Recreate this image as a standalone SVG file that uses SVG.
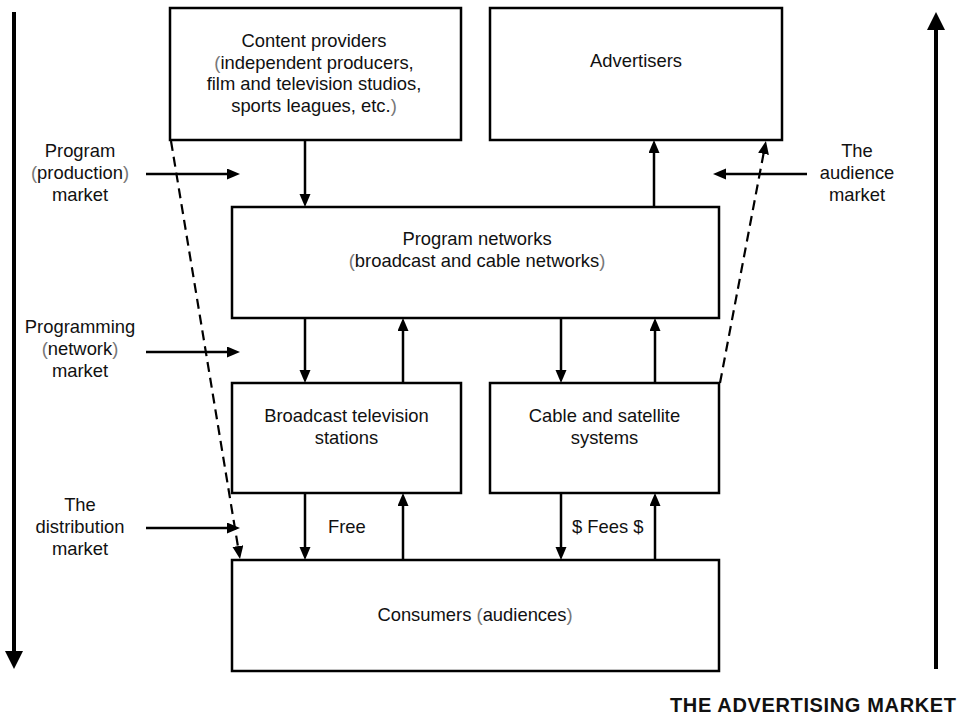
<svg xmlns="http://www.w3.org/2000/svg" width="961" height="717" viewBox="0 0 961 717">
<style>
  .box { fill: #fff; stroke: #000; stroke-width: 2.5; }
  .t { font-family: "Liberation Sans", Arial, Helvetica, sans-serif; font-size: 18.4px; fill: #111; text-anchor: middle; }
  .tl { font-family: "Liberation Sans", Arial, Helvetica, sans-serif; font-size: 18.4px; fill: #111; }
  .p { fill: #777; }
  .c { fill: none; stroke: #000; stroke-width: 2.5; marker-end: url(#ah); }
  .d { fill: none; stroke: #000; stroke-width: 2.2; stroke-dasharray: 10 6; marker-end: url(#ah); }
  .big { fill: none; stroke: #000; stroke-width: 4; marker-end: url(#bh); }
  .title { font-family: "Liberation Sans", Arial, Helvetica, sans-serif; font-size: 20px; font-weight: bold; fill: #111; }
</style>
<defs>
  <marker id="ah" markerUnits="userSpaceOnUse" markerWidth="14" markerHeight="12" refX="8" refY="5.5" orient="auto" viewBox="0 0 14 12">
    <path d="M0,0 L13,5.5 L0,11 z" fill="#000"/>
  </marker>
  <marker id="bh" markerUnits="userSpaceOnUse" markerWidth="19" markerHeight="19" refX="10" refY="9" orient="auto" viewBox="0 0 19 19">
    <path d="M0,0 L18,9 L0,18 z" fill="#000"/>
  </marker>
</defs>

<g id="connectors">
  <line class="big" x1="14" y1="12" x2="14" y2="661"/>
  <line class="big" x1="936" y1="669" x2="936" y2="20"/>

  <line class="c" x1="305" y1="140" x2="305" y2="202"/>
  <line class="c" x1="654" y1="207" x2="654" y2="145"/>
  <line class="c" x1="305" y1="318" x2="305" y2="378"/>
  <line class="c" x1="403" y1="383" x2="403" y2="323"/>
  <line class="c" x1="561" y1="318" x2="561" y2="378"/>
  <line class="c" x1="655" y1="383" x2="655" y2="323"/>
  <line class="c" x1="305" y1="493" x2="305" y2="555"/>
  <line class="c" x1="403" y1="560" x2="403" y2="498"/>
  <line class="c" x1="561" y1="493" x2="561" y2="555"/>
  <line class="c" x1="655" y1="560" x2="655" y2="498"/>

  <line class="c" x1="146" y1="174" x2="235" y2="174"/>
  <line class="c" x1="146" y1="352" x2="235" y2="352"/>
  <line class="c" x1="146" y1="528" x2="235" y2="528"/>
  <line class="c" x1="807" y1="174" x2="718" y2="174"/>

  <line class="d" x1="171" y1="141" x2="239.2" y2="554"/>
  <line class="d" x1="720" y1="383" x2="765" y2="146"/>
</g>

<g id="content-providers">
  <rect class="box" x="170" y="8" width="291" height="132"/>
  <text class="t" x="314" y="47">Content providers</text>
  <text class="t" x="314" y="68.7"><tspan class="p">(</tspan>independent producers,</text>
  <text class="t" x="314" y="90.3">film and television studios,</text>
  <text class="t" x="314" y="112">sports leagues, etc.<tspan class="p">)</tspan></text>
</g>

<g id="advertisers">
  <rect class="box" x="490" y="8" width="292" height="132"/>
  <text class="t" x="636" y="67">Advertisers</text>
</g>

<g id="program-networks">
  <rect class="box" x="232" y="207" width="487" height="111"/>
  <text class="t" x="477" y="245">Program networks</text>
  <text class="t" x="477" y="267"><tspan class="p">(</tspan>broadcast and cable networks<tspan class="p">)</tspan></text>
</g>

<g id="broadcast-stations">
  <rect class="box" x="232" y="383" width="229" height="110"/>
  <text class="t" x="346.5" y="422">Broadcast television</text>
  <text class="t" x="346.5" y="444">stations</text>
</g>

<g id="cable-satellite">
  <rect class="box" x="490" y="383" width="229" height="110"/>
  <text class="t" x="604.5" y="422">Cable and satellite</text>
  <text class="t" x="604.5" y="444">systems</text>
</g>

<g id="consumers">
  <rect class="box" x="232" y="560" width="487" height="111"/>
  <text class="t" x="475" y="621">Consumers <tspan class="p">(</tspan>audiences<tspan class="p">)</tspan></text>
</g>

<g id="labels">
  <text class="tl" x="328" y="533">Free</text>
  <text class="tl" x="572" y="533">$ Fees $</text>

  <text class="t" x="80" y="157">Program</text>
  <text class="t" x="80" y="179"><tspan class="p">(</tspan>production<tspan class="p">)</tspan></text>
  <text class="t" x="80" y="201">market</text>

  <text class="t" x="80" y="333">Programming</text>
  <text class="t" x="80" y="355"><tspan class="p">(</tspan>network<tspan class="p">)</tspan></text>
  <text class="t" x="80" y="377">market</text>

  <text class="t" x="80" y="511">The</text>
  <text class="t" x="80" y="533">distribution</text>
  <text class="t" x="80" y="555">market</text>

  <text class="t" x="857" y="157">The</text>
  <text class="t" x="857" y="179">audience</text>
  <text class="t" x="857" y="201">market</text>

  <text class="title" x="670" y="712" textLength="286" lengthAdjust="spacing">THE ADVERTISING MARKET</text>
</g>
</svg>
